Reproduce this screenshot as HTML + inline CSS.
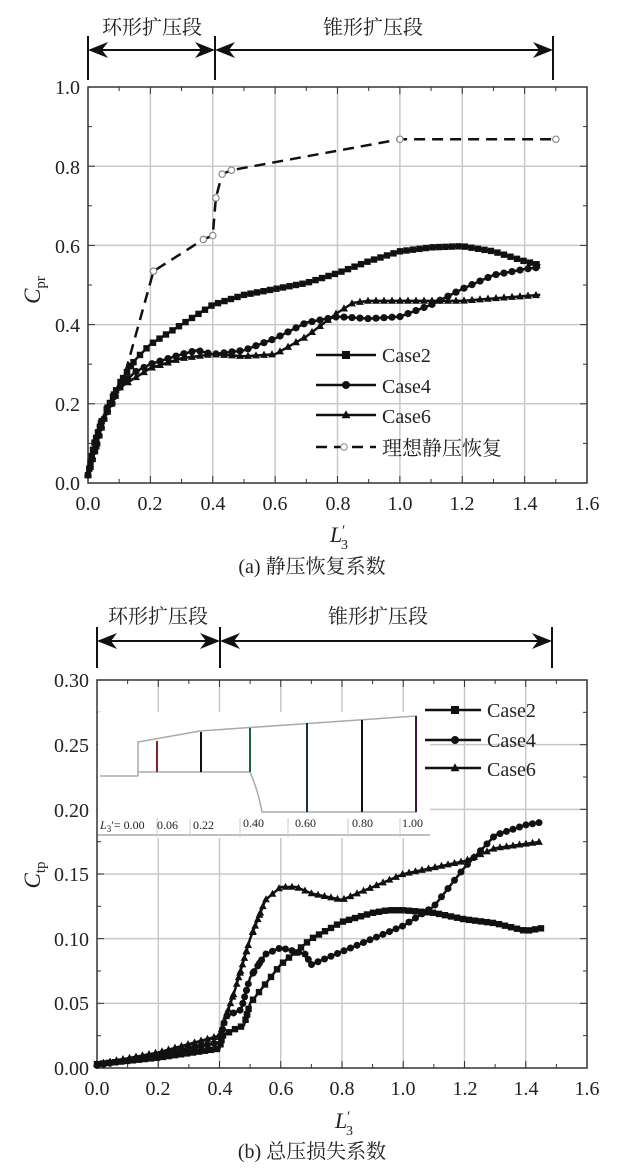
<!DOCTYPE html>
<html><head><meta charset="utf-8"><style>
body{margin:0;background:#fff;width:624px;height:1170px;overflow:hidden}
svg text{font-family:"Liberation Serif","Noto Serif CJK SC",serif;fill:#222}
</style></head><body>
<svg id="s" width="624" height="1170" xmlns="http://www.w3.org/2000/svg">
<defs><marker id="ah" markerWidth="10" markerHeight="8" refX="9" refY="4" orient="auto-start-reverse"><path d="M0,0 L10,4 L0,8 L3,4z" fill="#111"/></marker></defs>
<g id="grid"></g>
<g stroke="#111" stroke-width="2" fill="none">
<line x1="88" y1="36" x2="88" y2="80"/><line x1="215" y1="36" x2="215" y2="80"/><line x1="553" y1="36" x2="553" y2="80"/>
<line x1="90" y1="50" x2="213" y2="50" marker-start="url(#ah)" marker-end="url(#ah)"/>
<line x1="217" y1="50" x2="551" y2="50" marker-start="url(#ah)" marker-end="url(#ah)"/>
<line x1="97" y1="627" x2="97" y2="668"/><line x1="220" y1="627" x2="220" y2="668"/><line x1="552" y1="627" x2="552" y2="668"/>
<line x1="99" y1="641" x2="218" y2="641" marker-start="url(#ah)" marker-end="url(#ah)"/>
<line x1="222" y1="641" x2="550" y2="641" marker-start="url(#ah)" marker-end="url(#ah)"/>
</g>
<text x="152" y="34" font-size="20" text-anchor="middle">环形扩压段</text>
<text x="373" y="34" font-size="20" text-anchor="middle">锥形扩压段</text>
<text x="158" y="623" font-size="20" text-anchor="middle">环形扩压段</text>
<text x="378" y="623" font-size="20" text-anchor="middle">锥形扩压段</text>
<g font-size="20" text-anchor="end">
<text x="80" y="490">0.0</text><text x="80" y="411">0.2</text><text x="80" y="332">0.4</text><text x="80" y="253">0.6</text><text x="80" y="174">0.8</text><text x="80" y="94">1.0</text>
</g>
<g font-size="20" text-anchor="middle">
<text x="88" y="510">0.0</text><text x="150" y="510">0.2</text><text x="213" y="510">0.4</text><text x="275" y="510">0.6</text><text x="338" y="510">0.8</text><text x="400" y="510">1.0</text><text x="462" y="510">1.2</text><text x="525" y="510">1.4</text><text x="587" y="510">1.6</text>
</g>
<text x="330" y="542" font-size="22" font-style="italic">L</text><text x="342" y="535" font-size="15">′</text><text x="341" y="549" font-size="14">3</text>
<text x="312" y="573" font-size="20" text-anchor="middle">(a) 静压恢复系数</text>
<text transform="translate(40,290) rotate(-90)" font-size="23" font-style="italic" text-anchor="middle">C<tspan font-size="15" dy="5" font-style="normal">pr</tspan></text>
<g font-size="20" text-anchor="end">
<text x="89" y="1075">0.00</text><text x="89" y="1010">0.05</text><text x="89" y="946">0.10</text><text x="89" y="881">0.15</text><text x="89" y="817">0.20</text><text x="89" y="752">0.25</text><text x="89" y="687">0.30</text>
</g>
<g font-size="20" text-anchor="middle">
<text x="97" y="1095">0.0</text><text x="158" y="1095">0.2</text><text x="220" y="1095">0.4</text><text x="281" y="1095">0.6</text><text x="342" y="1095">0.8</text><text x="403" y="1095">1.0</text><text x="465" y="1095">1.2</text><text x="526" y="1095">1.4</text><text x="587" y="1095">1.6</text>
</g>
<text x="335" y="1128" font-size="22" font-style="italic">L</text><text x="347" y="1121" font-size="15">′</text><text x="346" y="1135" font-size="14">3</text>
<text x="312" y="1158" font-size="20" text-anchor="middle">(b) 总压损失系数</text>
<text transform="translate(40,875) rotate(-90)" font-size="23" font-style="italic" text-anchor="middle">C<tspan font-size="15" dy="5" font-style="normal">tp</tspan></text>
<g id="inset"></g>
<g id="data"></g>
<g font-size="20"><text x="382" y="362">Case2</text><text x="382" y="393">Case4</text><text x="382" y="423">Case6</text><text x="382" y="455">理想静压恢复</text>
<text x="487" y="717">Case2</text><text x="487" y="747">Case4</text><text x="487" y="776">Case6</text></g>
<text x="100" y="829" font-size="12" font-style="italic">L<tspan font-size="9" dy="3" font-style="normal">3</tspan><tspan dy="-3" font-style="normal">′= 0.00</tspan></text>
<g font-size="12"><text x="157" y="829">0.06</text><text x="193" y="829">0.22</text><text x="243" y="827">0.40</text><text x="295" y="827">0.60</text><text x="352" y="827">0.80</text><text x="402" y="827">1.00</text></g>
</svg>
<script>
var NS="http://www.w3.org/2000/svg";
function el(p,t,a){var e=document.createElementNS(NS,t);for(var k in a)e.setAttribute(k,a[k]);p.appendChild(e);return e;}
var G=document.getElementById('grid'),D=document.getElementById('data'),I=document.getElementById('inset');
function axes(x0,x1,y0,y1,nx,ny){
 for(var i=1;i<nx;i++){var x=x0+(x1-x0)*i/nx;el(G,'line',{x1:x,x2:x,y1:y0,y2:y1,stroke:'#c8c8c8','stroke-width':1.5});}
 for(var j=1;j<ny;j++){var y=y1+(y0-y1)*j/ny;el(G,'line',{x1:x0,x2:x1,y1:y,y2:y,stroke:'#c8c8c8','stroke-width':1.5});}
 for(var i=0;i<=nx*2;i++){var x=x0+(x1-x0)*i/(nx*2);el(G,'line',{x1:x,x2:x,y1:y1,y2:y1-(i%2?4:7),stroke:'#333'});el(G,'line',{x1:x,x2:x,y1:y0,y2:y0+(i%2?4:7),stroke:'#333'});}
 for(var j=0;j<=ny*2;j++){var y=y1+(y0-y1)*j/(ny*2);el(G,'line',{x1:x0,x2:x0+(j%2?4:7),y1:y,y2:y,stroke:'#333'});el(G,'line',{x1:x1,x2:x1-(j%2?4:7),y1:y,y2:y,stroke:'#333'});}
 el(G,'rect',{x:x0,y:y0,width:x1-x0,height:y1-y0,fill:'none',stroke:'#333','stroke-width':1.5});
}
axes(88,587,87,483,8,5);axes(97,587,680,1068,8,6);
function marker(x,y,m,s){if(m=='s')el(D,'rect',{x:x-s,y:y-s,width:2*s,height:2*s,fill:'#111'});else if(m=='c')el(D,'circle',{cx:x,cy:y,r:s,fill:'#111'});else el(D,'path',{d:'M'+x+','+(y-s*1.2)+'L'+(x+s*1.1)+','+(y+s*.8)+'L'+(x-s*1.1)+','+(y+s*.8)+'z',fill:'#111'});}
function series(pts,fx,fy,m,step,s){var p=pts.map(function(q){return [fx(q[0]),fy(q[1])]});el(D,'polyline',{points:p.join(' '),fill:'none',stroke:'#111','stroke-width':2.5});
 var xs=p[0][0],xe=p[p.length-1][0];
 for(var x=xs;x<=xe+0.01;x+=step){for(var i=0;i<p.length-1;i++){if(x>=p[i][0]&&x<=p[i+1][0]){var t=(x-p[i][0])/(p[i+1][0]-p[i][0]||1);marker(x,p[i][1]+(p[i+1][1]-p[i][1])*t,m,s);break;}}}
 for(var i=0;i<p.length-1;i++){var dy=Math.abs(p[i+1][1]-p[i][1]),dx=p[i+1][0]-p[i][0];if(dy>dx*1.5){var n=Math.ceil(dy/step);for(var k=1;k<n;k++)marker(p[i][0]+dx*k/n,p[i][1]+(p[i+1][1]-p[i][1])*k/n,m,s);}}
}
var tx=function(L){return 88+L*311.9},ty=function(c){return 483-c*396};
var c2=[[0,.02],[.02,.1],[.05,.17],[.1,.25],[.15,.31],[.2,.35],[.3,.4],[.4,.45],[.5,.475],[.6,.49],[.7,.505],[.8,.53],[.9,.56],[1,.585],[1.1,.595],[1.2,.598],[1.3,.585],[1.4,.56],[1.45,.55]];
var c4=[[0,.02],[.05,.16],[.1,.24],[.15,.28],[.2,.3],[.3,.325],[.35,.335],[.4,.325],[.5,.335],[.6,.365],[.7,.405],[.8,.42],[.9,.415],[1,.42],[1.1,.45],[1.2,.49],[1.3,.525],[1.4,.54],[1.45,.545]];
var c6=[[0,.02],[.05,.16],[.1,.24],[.2,.29],[.3,.315],[.4,.325],[.5,.32],[.6,.325],[.7,.37],[.8,.43],[.85,.455],[.9,.46],[1,.46],[1.2,.46],[1.45,.475]];
series(c2,tx,ty,'s',6.5,3.2);series(c4,tx,ty,'c',8,3.6);series(c6,tx,ty,'t',8,3.6);
var id=[[.12,.28],[.21,.535],[.37,.615],[.4,.625],[.41,.72],[.43,.78],[.46,.79],[1,.868],[1.5,.868]];
el(D,'polyline',{points:id.map(function(q){return [tx(q[0]),ty(q[1])]}).join(' '),fill:'none',stroke:'#111','stroke-width':2.5,'stroke-dasharray':'11,7'});
id.slice(1).forEach(function(q){el(D,'circle',{cx:tx(q[0]),cy:ty(q[1]),r:3.2,fill:'#fff',stroke:'#888','stroke-width':1.2})});
[[355,'s'],[385,'c'],[415,'t']].forEach(function(a){el(D,'line',{x1:316,x2:376,y1:a[0],y2:a[0],stroke:'#111','stroke-width':2.5});marker(346,a[0],a[1],4)});
el(D,'line',{x1:316,x2:376,y1:447,y2:447,stroke:'#111','stroke-width':2.5,'stroke-dasharray':'11,7'});
el(D,'circle',{cx:344,cy:447,r:3.2,fill:'#fff',stroke:'#888'});
el(I,'rect',{x:98,y:712,width:332,height:126,fill:'#fff'});
el(I,'line',{x1:98,x2:430,y1:835,y2:835,stroke:'#aaa','stroke-width':1.5});
el(I,'polyline',{points:'100,776 138,776',fill:'none',stroke:'#aaa','stroke-width':1.5});
el(I,'path',{d:'M138,776 L138,742 L200,731 L416,716 L416,812 L262,812 Q258,790 250,772 L138,772',fill:'none',stroke:'#aaa','stroke-width':1.5});
[[157,741,772,'#822'],[201,732,772,'#111'],[250,728,772,'#163'],[307,723,812,'#134'],[362,720,812,'#111'],[416,716,812,'#414']].forEach(function(a){el(I,'line',{x1:a[0],x2:a[0],y1:a[1],y2:a[2],stroke:a[3],'stroke-width':2})});
[157,190,240,288,348,400].forEach(function(x){el(I,'line',{x1:x,x2:x,y1:818,y2:837,stroke:'#ccc'})});
var bx=function(L){return 97+L*306.25},by=function(c){return 1068-c*1293};
var d2=[[0,.003],[.2,.008],[.4,.015],[.41,.025],[.45,.03],[.48,.033],[.5,.05],[.55,.065],[.6,.08],[.65,.09],[.7,.1],[.8,.113],[.9,.12],[.95,.122],[1,.122],[1.1,.12],[1.2,.115],[1.3,.112],[1.4,.106],[1.45,.108]];
var d4=[[0,.002],[.2,.01],[.4,.02],[.42,.04],[.47,.045],[.5,.07],[.55,.088],[.6,.093],[.65,.09],[.68,.088],[.7,.08],[.8,.09],[.9,.1],[1,.11],[1.1,.125],[1.2,.155],[1.3,.18],[1.4,.188],[1.45,.19]];
var d6=[[0,.003],[.2,.012],[.4,.025],[.45,.06],[.5,.1],[.55,.13],[.6,.14],[.65,.14],[.7,.135],[.8,.13],[.9,.14],[1,.15],[1.1,.155],[1.2,.16],[1.3,.17],[1.45,.175]];
series(d2,bx,by,'s',6,3.2);series(d4,bx,by,'c',6.5,3.5);series(d6,bx,by,'t',6.5,3.5);
[[710,'s'],[740,'c'],[768,'t']].forEach(function(a){el(D,'line',{x1:425,x2:481,y1:a[0],y2:a[0],stroke:'#111','stroke-width':2.5});marker(455,a[0],a[1],4)});
</script>
</body></html>
